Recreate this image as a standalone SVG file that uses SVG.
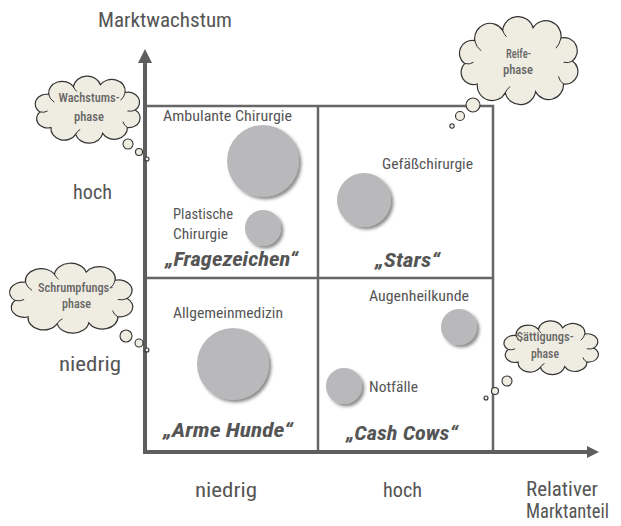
<svg xmlns="http://www.w3.org/2000/svg" xmlns:xlink="http://www.w3.org/1999/xlink" width="621" height="526" viewBox="0 0 621 526">
  <style>
    .lbl { font-family: "Roboto Condensed", "DejaVu Sans Condensed", "Liberation Sans Narrow", Roboto, "Liberation Sans", sans-serif; fill: #555; font-weight: 400; }
    .axis-lbl { font-size: 20px; }
    .item { font-size: 15px; }
    .title { font-size: 20px; font-weight: bold; font-style: italic; }
    .cloud-txt { font-size: 13.5px; fill: #666; font-weight: 500; }
    .bubble { fill: #b9b9bb; filter: url(#shadow); }
    .cloud-body { fill: #efece1; stroke: #333; stroke-width: 1.2; vector-effect: non-scaling-stroke; }
    .cloud-curl { fill: none; stroke: #333; stroke-width: 1; vector-effect: non-scaling-stroke; }
    .puff { fill: #efece1; stroke: #333; stroke-width: 1.1; }
    .grid { stroke: #666; stroke-width: 2.5; fill: none; }
    .axis { stroke: #5e5e5e; stroke-width: 4; fill: none; }
    .arrow { fill: #5e5e5e; }
  </style>
  <defs>
    <filter id="shadow" x="-30%" y="-30%" width="170%" height="170%">
      <feDropShadow dx="2.5" dy="2.5" stdDeviation="1.8" flood-color="#333" flood-opacity="0.55"/>
    </filter>
    <!-- thought cloud outline, stretched to each box -->
    <symbol id="cloud" viewBox="2 -4 97 72" preserveAspectRatio="none">
      <path class="cloud-body" d="M18,50 A9.7,9.7 0 0 1 8,34 A10.1,10.1 0 0 1 16,16 A12,12 0 0 1 38,8 A12.3,12.3 0 0 1 62,6 A12,12 0 0 1 84,14 A10.3,10.3 0 0 1 93,32 A9.9,9.9 0 0 1 86,50 A11.7,11.7 0 0 1 64,56 A12.3,12.3 0 0 1 40,57 A11.8,11.8 0 0 1 18,50 Z"/>
      <path class="cloud-curl" d="M16,16 q1,5 5,8 M38,8 q1,3 3,5 M84,14 q-1,5 -4,8 M93,32 q-3,2 -7,1 M86,50 q-3,-2 -4,-6 M40,57 q1,-3 4,-5 M8,34 q4,1 7,-1"/>
    </symbol>
  </defs>

  <!-- quadrant frame and axes -->
  <g id="axes">
    <polyline class="grid" points="145,106 493,106 493,452"/>
    <line class="grid" x1="318" y1="106" x2="318" y2="452"/>
    <line class="grid" x1="145" y1="278" x2="493" y2="278"/>
    <line class="axis" x1="145" y1="454" x2="145" y2="60"/>
    <polygon class="arrow" points="138,63 145,49 152,63"/>
    <line class="axis" x1="143" y1="452" x2="589" y2="452"/>
    <polygon class="arrow" points="587,446 599,452 587,458"/>
  </g>

  <!-- axis labels -->
  <g id="axis-labels" class="lbl axis-lbl">
    <text x="98" y="27" textLength="134" lengthAdjust="spacingAndGlyphs">Marktwachstum</text>
    <text x="73" y="199" textLength="39" lengthAdjust="spacingAndGlyphs">hoch</text>
    <text x="59" y="371" textLength="62" lengthAdjust="spacingAndGlyphs">niedrig</text>
    <text x="195" y="497" textLength="62" lengthAdjust="spacingAndGlyphs">niedrig</text>
    <text x="383" y="497" textLength="39" lengthAdjust="spacingAndGlyphs">hoch</text>
    <text x="526" y="496" textLength="72" lengthAdjust="spacingAndGlyphs">Relativer</text>
    <text x="526" y="518" textLength="83" lengthAdjust="spacingAndGlyphs">Marktanteil</text>
  </g>

  <!-- quadrant titles -->
  <g id="q-fragezeichen" class="lbl title"><text x="165" y="266" textLength="133" lengthAdjust="spacingAndGlyphs">„Fragezeichen“</text></g>
  <g id="q-stars" class="lbl title"><text x="375" y="267" textLength="65" lengthAdjust="spacingAndGlyphs">„Stars“</text></g>
  <g id="q-arme-hunde" class="lbl title"><text x="163" y="437" textLength="130" lengthAdjust="spacingAndGlyphs">„Arme Hunde“</text></g>
  <g id="q-cash-cows" class="lbl title"><text x="346" y="440" textLength="112" lengthAdjust="spacingAndGlyphs">„Cash Cows“</text></g>

  <!-- business units -->
  <g id="ambulante-chirurgie">
    <circle class="bubble" cx="263" cy="161" r="36"/>
    <text class="lbl item" x="163" y="121" textLength="129" lengthAdjust="spacingAndGlyphs">Ambulante Chirurgie</text>
  </g>
  <g id="plastische-chirurgie">
    <circle class="bubble" cx="263" cy="228" r="18"/>
    <text class="lbl item" x="173" y="219" textLength="60" lengthAdjust="spacingAndGlyphs">Plastische</text>
    <text class="lbl item" x="173" y="239" textLength="55" lengthAdjust="spacingAndGlyphs">Chirurgie</text>
  </g>
  <g id="gefaesschirurgie">
    <circle class="bubble" cx="364" cy="200" r="27"/>
    <text class="lbl item" x="382" y="169" textLength="91" lengthAdjust="spacingAndGlyphs">Gefäßchirurgie</text>
  </g>
  <g id="allgemeinmedizin">
    <circle class="bubble" cx="233" cy="364" r="36"/>
    <text class="lbl item" x="173" y="318" textLength="110" lengthAdjust="spacingAndGlyphs">Allgemeinmedizin</text>
  </g>
  <g id="augenheilkunde">
    <circle class="bubble" cx="459" cy="327" r="18"/>
    <text class="lbl item" x="369" y="301" textLength="100" lengthAdjust="spacingAndGlyphs">Augenheilkunde</text>
  </g>
  <g id="notfaelle">
    <circle class="bubble" cx="344" cy="386" r="18"/>
    <text class="lbl item" x="369" y="392" textLength="49" lengthAdjust="spacingAndGlyphs">Notfälle</text>
  </g>

  <!-- lifecycle thought clouds -->
  <g id="cloud-wachstum">
    <use xlink:href="#cloud" href="#cloud" x="33" y="75" width="109" height="70"/>
    <circle class="puff" cx="128" cy="144" r="5"/>
    <circle class="puff" cx="139" cy="152" r="3.5"/>
    <circle class="puff" cx="147" cy="159" r="2"/>
    <text class="lbl cloud-txt" x="58.5" y="102" textLength="61" lengthAdjust="spacingAndGlyphs">Wachstums-</text>
    <text class="lbl cloud-txt" x="74" y="121" textLength="30" lengthAdjust="spacingAndGlyphs">phase</text>
  </g>
  <g id="cloud-reife">
    <use xlink:href="#cloud" href="#cloud" x="457" y="15" width="123" height="92"/>
    <circle class="puff" cx="473" cy="105" r="7"/>
    <circle class="puff" cx="460" cy="116" r="4.5"/>
    <circle class="puff" cx="452" cy="126" r="2.2"/>
    <text class="lbl cloud-txt" x="506" y="58" textLength="25" lengthAdjust="spacingAndGlyphs">Reife-</text>
    <text class="lbl cloud-txt" x="503" y="74" textLength="30" lengthAdjust="spacingAndGlyphs">phase</text>
  </g>
  <g id="cloud-schrumpfung">
    <use xlink:href="#cloud" href="#cloud" x="7" y="262" width="128" height="73"/>
    <circle class="puff" cx="126" cy="336" r="6"/>
    <circle class="puff" cx="139" cy="343" r="4"/>
    <circle class="puff" cx="147" cy="350" r="2"/>
    <text class="lbl cloud-txt" x="38" y="292" textLength="75" lengthAdjust="spacingAndGlyphs">Schrumpfungs-</text>
    <text class="lbl cloud-txt" x="62" y="308" textLength="29" lengthAdjust="spacingAndGlyphs">phase</text>
  </g>
  <g id="cloud-saettigung">
    <use xlink:href="#cloud" href="#cloud" x="502" y="320" width="98" height="56"/>
    <circle class="puff" cx="507" cy="381" r="5"/>
    <circle class="puff" cx="495" cy="391" r="3.5"/>
    <circle class="puff" cx="486" cy="398" r="2"/>
    <text class="lbl cloud-txt" x="516.5" y="341" textLength="57" lengthAdjust="spacingAndGlyphs">Sättigungs-</text>
    <text class="lbl cloud-txt" x="531" y="358" textLength="28" lengthAdjust="spacingAndGlyphs">phase</text>
  </g>
</svg>
